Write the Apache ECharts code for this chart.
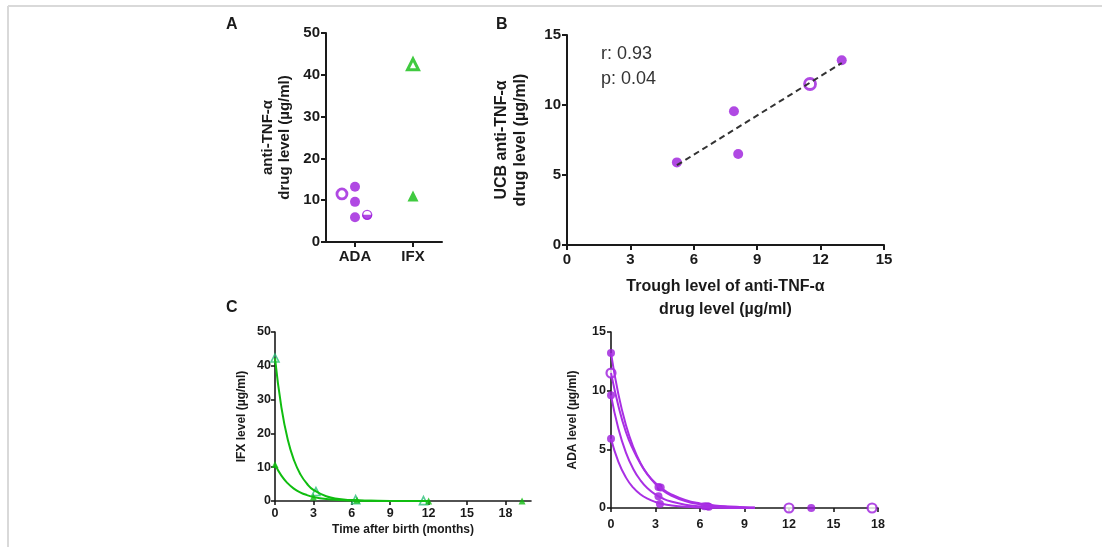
<!DOCTYPE html>
<html><head><meta charset="utf-8">
<script src="https://cdn.jsdelivr.net/npm/echarts@6/dist/echarts.min.js"></script>
<style>html,body{margin:0;padding:0;background:#fff}#c{width:1102px;height:547px}</style>
</head><body><div id="c"></div>
<script>
// ---------- Panel A ----------
const categoriesA = ['ADA', 'IFX'];
const adaFilledA = [13.2, 9.6, 5.9];
const adaOpenA = [11.5];
const adaHalfA = [6.5];
const ifxOpenA = [42.5];
const ifxFilledA = [11.0];
// ---------- Panel B ----------
const ucbFilledX = [5.2, 7.9, 8.1, 13.0];
const ucbFilledY = [5.9, 9.55, 6.5, 13.2];
const ucbOpenX = [11.5];
const ucbOpenY = [11.5];
const fitLineX = [5.2, 13.0];
const fitLineY = [5.7, 13.0];
const statsText = ['r: 0.93', 'p: 0.04'];
// ---------- Panel C left (IFX) ----------
const ticksTime = [0, 3, 6, 9, 12, 15, 18];
const ifxOpenT = [0, 3.2, 6.3, 11.6];
const ifxOpenV = [42.3, 2.8, 0.4, 0.1];
const ifxFilledT = [0, 3.0, 6.4, 12.0, 19.3];
const ifxFilledV = [10.8, 1.2, 0.3, 0, 0];
const ifxCurveT = [0, 0.5, 1, 1.5, 2, 2.5, 3, 4, 5, 6, 7, 8, 10, 12];
const ifxCurveHigh = [42.3, 27.7, 18.1, 11.9, 7.8, 5.1, 3.3, 1.4, 0.6, 0.26, 0.1, 0.05, 0.01, 0];
const ifxCurveLow = [10.8, 7.5, 5.2, 3.6, 2.5, 1.75, 1.2, 0.58, 0.28, 0.13, 0.06, 0.03, 0.01, 0];
// ---------- Panel C right (ADA) ----------
const adaOpenT = [0, 12.0, 17.6];
const adaOpenV = [11.5, 0, 0];
const adaFilledT = [0, 0, 0, 3.2, 3.35, 3.2, 3.3, 6.3, 6.5, 6.6, 13.5];
const adaFilledV = [13.2, 9.6, 5.9, 1.8, 1.75, 1.0, 0.35, 0.15, 0.15, 0.1, 0];
const adaCurveT = [0, 0.5, 1, 1.5, 2, 2.5, 3, 3.5, 4, 5, 6, 7, 8, 9, 9.7];
const adaCurve1 = [13.2, 9.68, 7.1, 5.2, 3.8, 2.8, 2.05, 1.5, 1.1, 0.59, 0.31, 0.17, 0.09, 0.05, 0.03];
const adaCurve2 = [11.5, 8.7, 6.5, 4.95, 3.75, 2.8, 2.13, 1.6, 1.21, 0.69, 0.39, 0.22, 0.13, 0.07, 0.05];
const adaCurve3 = [9.6, 6.75, 4.74, 3.33, 2.34, 1.64, 1.15, 0.81, 0.57, 0.28, 0.14, 0.07, 0.03, 0.02, 0.01];
const adaCurve4 = [5.9, 3.93, 2.61, 1.73, 1.15, 0.77, 0.51, 0.34, 0.23, 0.1, 0.04, 0.02, 0.01, 0, 0];

const PURPLE = '#9c1bdc';
const PURPLE_LINE = '#a92fe4';
const GREEN = '#10bd10';
const GREEN_OPEN = '#2dbf7a';
const FONT = 'Liberation Sans, Arial, sans-serif';
const INK = '#1a1a1a';

const zip = (a, b) => a.map((v, i) => [v, b[i]]);
const fill = (v, n) => Array.from({length: n}, () => v);

function axis(o) {
  const lw = o.lw || 2;
  const fs = o.fs || 14;
  const a = {
    type: 'value', gridIndex: o.g, min: o.min, max: o.max,
    splitLine: {show: false},
    axisLine: {show: true, onZero: false, lineStyle: {color: INK, width: lw}},
    axisTick: {show: true, length: o.tl || 5, lineStyle: {color: INK, width: lw}},
    axisLabel: {color: INK, fontFamily: FONT, fontWeight: 'bold', fontSize: fs, margin: o.margin || 6},
    name: o.name || '', nameLocation: 'middle', nameGap: o.nameGap || 20,
    nameTextStyle: {color: INK, fontFamily: FONT, fontWeight: 'bold', fontSize: o.nfs || 15, lineHeight: o.nlh || 18}
  };
  if (o.interval != null) a.interval = o.interval;
  if (o.custom) { a.axisTick.customValues = o.custom; a.axisLabel.customValues = o.custom; }
  if (o.formatter) a.axisLabel.formatter = o.formatter;
  if (o.rot) a.nameRotate = 90;
  return a;
}

const option = {
  animation: false,
  backgroundColor: '#fff',
  grid: [
    {left: 326, top: 33, width: 116, height: 209},
    {left: 567, top: 35, width: 317, height: 210},
    {left: 275, top: 332, width: 256, height: 169},
    {left: 611, top: 332, width: 267, height: 176}
  ],
  xAxis: [
    axis({g: 0, min: 0, max: 4, custom: [1, 3], formatter: v => categoriesA[Math.round((v - 1) / 2)], fs: 15, margin: 7}),
    axis({g: 1, min: 0, max: 15, interval: 3, fs: 15, margin: 7, name: 'Trough level of anti-TNF-α\ndrug level (µg/ml)', nameGap: 30, nfs: 16, nlh: 23}),
    axis({g: 2, min: 0, max: 20, custom: ticksTime, fs: 12.5, lw: 1.6, tl: 4, margin: 6, name: 'Time after birth (months)', nameGap: 22, nfs: 12, nlh: 14}),
    axis({g: 3, min: 0, max: 18, interval: 3, fs: 12.5, lw: 1.6, tl: 4, margin: 10})
  ],
  yAxis: [
    axis({g: 0, min: 0, max: 50, interval: 10, fs: 15, margin: 6, rot: true, name: 'anti-TNF-α\ndrug level (µg/ml)', nameGap: 33, nfs: 15, nlh: 17}),
    axis({g: 1, min: 0, max: 15, interval: 5, fs: 15, margin: 6, rot: true, name: 'UCB anti-TNF-α\ndrug level (µg/ml)', nameGap: 37, nfs: 16, nlh: 19}),
    axis({g: 2, min: 0, max: 50, interval: 10, fs: 12.5, lw: 1.6, tl: 4, margin: 4, rot: true, name: 'IFX level (µg/ml)', nameGap: 26, nfs: 12, nlh: 14}),
    axis({g: 3, min: 0, max: 15, interval: 5, fs: 12.5, lw: 1.6, tl: 4, margin: 5, rot: true, name: 'ADA level (µg/ml)', nameGap: 31, nfs: 12, nlh: 14})
  ],
  series: [
    // Panel A
    {type: 'scatter', xAxisIndex: 0, yAxisIndex: 0, symbol: 'circle', symbolSize: 10,
     itemStyle: {color: PURPLE}, data: zip(fill(1, adaFilledA.length), adaFilledA)},
    {type: 'scatter', xAxisIndex: 0, yAxisIndex: 0, symbol: 'circle', symbolSize: 10,
     itemStyle: {color: '#fff', borderColor: PURPLE, borderWidth: 2.8}, data: zip(fill(0.55, adaOpenA.length), adaOpenA)},
    {type: 'scatter', xAxisIndex: 0, yAxisIndex: 0, symbol: 'circle', symbolSize: 9,
     itemStyle: {color: '#fff', borderColor: PURPLE, borderWidth: 1.4}, data: zip(fill(1.42, adaHalfA.length), adaHalfA)},
    {type: 'scatter', xAxisIndex: 0, yAxisIndex: 0, symbol: 'path://M0,0 A10,10 0 0 0 20,0 Z', symbolSize: [10, 5], symbolOffset: [0, 2.5],
     itemStyle: {color: PURPLE}, data: zip(fill(1.42, adaHalfA.length), adaHalfA)},
    {type: 'scatter', xAxisIndex: 0, yAxisIndex: 0, symbol: 'triangle', symbolSize: 11,
     itemStyle: {color: '#fff', borderColor: GREEN, borderWidth: 3}, data: zip(fill(3, ifxOpenA.length), ifxOpenA)},
    {type: 'scatter', xAxisIndex: 0, yAxisIndex: 0, symbol: 'triangle', symbolSize: 11,
     itemStyle: {color: GREEN}, data: zip(fill(3, ifxFilledA.length), ifxFilledA)},
    // Panel B
    {type: 'line', xAxisIndex: 1, yAxisIndex: 1, showSymbol: false, silent: true,
     lineStyle: {color: '#333', width: 2, type: [6, 4]}, data: zip(fitLineX, fitLineY)},
    {type: 'scatter', xAxisIndex: 1, yAxisIndex: 1, symbol: 'circle', symbolSize: 10,
     itemStyle: {color: PURPLE}, data: zip(ucbFilledX, ucbFilledY)},
    {type: 'scatter', xAxisIndex: 1, yAxisIndex: 1, symbol: 'circle', symbolSize: 11,
     itemStyle: {color: '#fff', borderColor: PURPLE, borderWidth: 2.8}, data: zip(ucbOpenX, ucbOpenY)},
    // Panel C left
    {type: 'line', xAxisIndex: 2, yAxisIndex: 2, smooth: true, showSymbol: false,
     lineStyle: {color: GREEN, width: 2}, data: zip(ifxCurveT, ifxCurveHigh)},
    {type: 'line', xAxisIndex: 2, yAxisIndex: 2, smooth: true, showSymbol: false,
     lineStyle: {color: GREEN, width: 2}, data: zip(ifxCurveT, ifxCurveLow)},
    {type: 'scatter', xAxisIndex: 2, yAxisIndex: 2, symbol: 'triangle', symbolSize: 8,
     itemStyle: {color: 'rgba(255,255,255,0)', borderColor: GREEN_OPEN, borderWidth: 1.6}, data: zip(ifxOpenT, ifxOpenV)},
    {type: 'scatter', xAxisIndex: 2, yAxisIndex: 2, symbol: 'triangle', symbolSize: 7,
     itemStyle: {color: GREEN}, data: zip(ifxFilledT, ifxFilledV)},
    // Panel C right
    {type: 'line', xAxisIndex: 3, yAxisIndex: 3, smooth: true, showSymbol: false,
     lineStyle: {color: PURPLE_LINE, width: 2}, data: zip(adaCurveT, adaCurve1)},
    {type: 'line', xAxisIndex: 3, yAxisIndex: 3, smooth: true, showSymbol: false,
     lineStyle: {color: PURPLE_LINE, width: 2}, data: zip(adaCurveT, adaCurve2)},
    {type: 'line', xAxisIndex: 3, yAxisIndex: 3, smooth: true, showSymbol: false,
     lineStyle: {color: PURPLE_LINE, width: 2}, data: zip(adaCurveT, adaCurve3)},
    {type: 'line', xAxisIndex: 3, yAxisIndex: 3, smooth: true, showSymbol: false,
     lineStyle: {color: PURPLE_LINE, width: 2}, data: zip(adaCurveT, adaCurve4)},
    {type: 'scatter', xAxisIndex: 3, yAxisIndex: 3, symbol: 'circle', symbolSize: 8,
     itemStyle: {color: PURPLE}, data: zip(adaFilledT, adaFilledV)},
    {type: 'scatter', xAxisIndex: 3, yAxisIndex: 3, symbol: 'circle', symbolSize: 9,
     itemStyle: {color: '#fff', borderColor: PURPLE, borderWidth: 2.2}, data: zip(adaOpenT, adaOpenV)}
  ],
  graphic: [
    {type: 'line', shape: {x1: 8, y1: 6, x2: 1102, y2: 6}, style: {stroke: '#d9d9d9', lineWidth: 2}},
    {type: 'line', shape: {x1: 8, y1: 6, x2: 8, y2: 547}, style: {stroke: '#d9d9d9', lineWidth: 2}},
    {type: 'text', left: 226, top: 17, style: {text: 'A', font: 'bold 16px ' + FONT, fill: INK}},
    {type: 'text', left: 496, top: 17, style: {text: 'B', font: 'bold 16px ' + FONT, fill: INK}},
    {type: 'text', left: 226, top: 300, style: {text: 'C', font: 'bold 16px ' + FONT, fill: INK}},
    {type: 'text', left: 601, top: 42, style: {text: statsText.join('\n'), font: '18px ' + FONT, lineHeight: 25, fill: '#333'}}
  ]
};
echarts.init(document.getElementById('c'), null, {renderer: 'canvas'}).setOption(option);
</script></body></html>
